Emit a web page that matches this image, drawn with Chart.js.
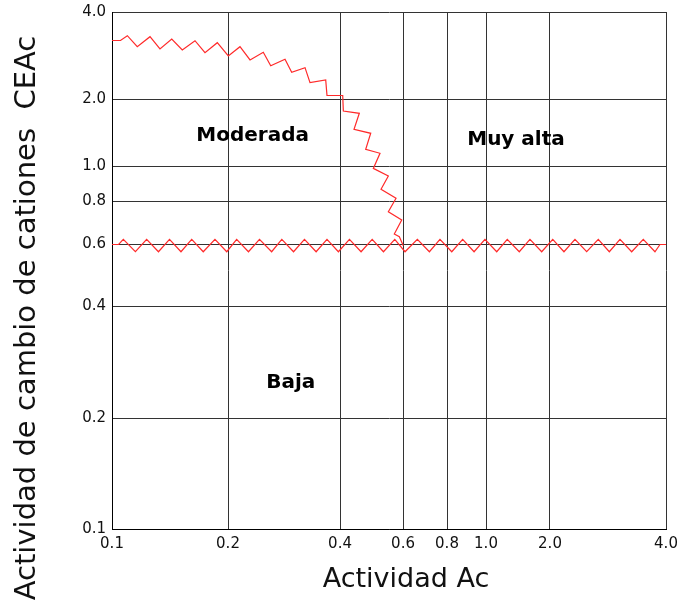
<!DOCTYPE html>
<html lang="es">
<head>
<meta charset="utf-8">
<title>Actividad vs CEAc</title>
<script src="https://cdn.jsdelivr.net/npm/chart.js@4/dist/chart.umd.min.js"></script>
<style>
    html, body { margin: 0; padding: 0; background: #fff; }
    #wrap { width: 677px; height: 602px; }
</style>
</head>
<body>
<div id="wrap"><canvas id="activityChart" width="677" height="602"></canvas></div>
<script>
/* ==========================================
        Data
========================================== */

const xTickValues = [0.1, 0.2, 0.4, 0.6, 0.8, 1.0, 2.0, 4.0];
const yTickValues = [0.1, 0.2, 0.4, 0.6, 0.8, 1.0, 2.0, 4.0];

// zigzag boundary at CEAc = 0.6
const lowerLineX = [
    0.1, 0.104, 0.107, 0.115, 0.123, 0.132, 0.141, 0.151, 0.161, 0.1725,
    0.185, 0.1985, 0.211, 0.227, 0.243, 0.262, 0.279, 0.300, 0.321, 0.345,
    0.369, 0.396, 0.425, 0.458, 0.492, 0.529, 0.569, 0.608, 0.659, 0.713,
    0.764, 0.822, 0.875, 0.934, 0.994, 1.123, 1.259, 1.434, 1.61, 1.828,
    2.033, 2.174, 2.322, 2.49, 2.669, 2.851, 3.039, 3.258, 3.492, 3.745,
    3.859, 4.0
];
const lowerLineY = [
    0.6, 0.6, 0.621, 0.572, 0.621, 0.572, 0.621, 0.572, 0.621, 0.572,
    0.621, 0.572, 0.621, 0.572, 0.621, 0.572, 0.621, 0.572, 0.621, 0.572,
    0.621, 0.572, 0.621, 0.572, 0.621, 0.572, 0.621, 0.572, 0.621, 0.572,
    0.621, 0.572, 0.621, 0.572, 0.621, 0.572, 0.621, 0.572, 0.621, 0.572,
    0.621, 0.572, 0.621, 0.572, 0.621, 0.572, 0.621, 0.572, 0.621, 0.572,
    0.6, 0.6
];

// zigzag boundary Moderada / Muy alta
const upperLineX = [
    0.1, 0.1052, 0.1096, 0.1163, 0.1255, 0.1332, 0.1429, 0.1522, 0.1642, 0.1743,
    0.1876, 0.2004, 0.2154, 0.2292, 0.2488, 0.2605, 0.2846, 0.2966, 0.3221, 0.3322,
    0.3661, 0.369, 0.407, 0.4086, 0.4529, 0.4377, 0.4874, 0.4719, 0.5174, 0.4956,
    0.5459, 0.5208, 0.5736, 0.5459, 0.595, 0.5673, 0.5859, 0.6012
];
const upperLineY = [
    3.191, 3.191, 3.315, 3.039, 3.289, 2.984, 3.230, 2.960, 3.186, 2.897,
    3.136, 2.823, 3.039, 2.735, 2.907, 2.614, 2.750, 2.481, 2.573, 2.285,
    2.334, 2.064, 2.064, 1.774, 1.732, 1.466, 1.406, 1.190, 1.142, 0.985,
    0.938, 0.862, 0.814, 0.745, 0.706, 0.643, 0.632, 0.595
];

const regionNames = ["Moderada", "Muy alta", "Baja"];
const regionX = [0.233, 1.384, 0.295];
const regionY = [1.367, 1.311, 0.249];

const xTitle = "Actividad Ac";
const yTitle = "Actividad de cambio de cationes  CEAc";

/* ==========================================
        Stretched log scale
        (grid spacing of the original figure)
========================================== */

const axisTicks = { x: xTickValues, y: yTickValues };
const axisStops = {
    x: [0, 0.2094, 0.4116, 0.5253, 0.6047, 0.6751, 0.7906, 1],
    y: [0, 0.2137, 0.4313, 0.5503, 0.6344, 0.7021, 0.8308, 1]
};

class StretchedLogScale extends Chart.LogarithmicScale {

    getPixelForValue(value) {
        if (value === undefined || value === null || value <= 0) return NaN;
        const ticks = axisTicks[this.id];
        const stops = axisStops[this.id];
        let i = 0;
        while (i < ticks.length - 2 && value > ticks[i + 1]) i++;
        const t = Math.log(value / ticks[i]) / Math.log(ticks[i + 1] / ticks[i]);
        const f = stops[i] + t * (stops[i + 1] - stops[i]);
        return this.isHorizontal()
            ? this.left + f * this.width
            : this.bottom - f * this.height;
    }

    getValueForPixel(pixel) {
        const ticks = axisTicks[this.id];
        const stops = axisStops[this.id];
        const f = this.isHorizontal()
            ? (pixel - this.left) / this.width
            : (this.bottom - pixel) / this.height;
        let i = 0;
        while (i < stops.length - 2 && f > stops[i + 1]) i++;
        const t = (f - stops[i]) / (stops[i + 1] - stops[i]);
        return ticks[i] * Math.pow(ticks[i + 1] / ticks[i], t);
    }

}

StretchedLogScale.id = "stretchedLog";
StretchedLogScale.defaults = Chart.LogarithmicScale.defaults;
Chart.register(StretchedLogScale);

/* ==========================================
        Labels + axis titles
========================================== */

const textLayer = {

    id: "textLayer",

    afterDatasetsDraw(chart) {

        const { ctx, scales: { x, y } } = chart;

        ctx.save();
        ctx.fillStyle = "#000";
        ctx.textAlign = "center";
        ctx.textBaseline = "middle";

        ctx.font = "bold 20px 'DejaVu Sans'";
        regionNames.forEach((name, i) => {
            ctx.fillText(name, x.getPixelForValue(regionX[i]), y.getPixelForValue(regionY[i]));
        });

        ctx.fillStyle = "#111";
        ctx.font = "27px 'DejaVu Sans'";
        ctx.fillText(xTitle, 406, 580);

        ctx.font = "29px 'DejaVu Sans'";
        ctx.translate(27, 318);
        ctx.rotate(-Math.PI / 2);
        ctx.fillText(yTitle, 0, 0);

        ctx.restore();

    }

};

/* ==========================================
        Chart
========================================== */

const toPoints = (xs, ys) => xs.map((v, i) => ({ x: v, y: ys[i] }));

const axisStyle = (ticks, size) => ({
    type: "stretchedLog",
    min: ticks[0],
    max: ticks[ticks.length - 1],
    afterBuildTicks: axis => {
        axis.ticks = ticks.map(v => ({ value: v }));
    },
    afterFit: axis => {
        if (axis.isHorizontal()) {
            axis.height = size;
            axis.paddingLeft = 0;
            axis.paddingRight = 0;
        } else {
            axis.width = size;
            axis.paddingTop = 0;
            axis.paddingBottom = 0;
        }
    },
    grid: {
        color: "#333",
        lineWidth: 1,
        drawTicks: false
    },
    border: {
        color: "#000",
        width: 1
    },
    ticks: {
        autoSkip: false,
        maxRotation: 0,
        padding: 6,
        color: "#111",
        font: { family: "'DejaVu Sans'", size: 15 },
        callback: v => Number(v).toFixed(1)
    }
});

new Chart(document.getElementById("activityChart"), {

    type: "scatter",

    data: {
        datasets: [
            {
                data: toPoints(upperLineX, upperLineY),
                showLine: true,
                borderColor: "#ff2a2a",
                borderWidth: 1.2,
                pointRadius: 0,
                tension: 0
            },
            {
                data: toPoints(lowerLineX, lowerLineY),
                showLine: true,
                borderColor: "#ff2a2a",
                borderWidth: 1.2,
                pointRadius: 0,
                tension: 0
            }
        ]
    },

    options: {
        responsive: false,
        animation: false,
        devicePixelRatio: 1,
        layout: {
            padding: { left: 0, top: 12, right: 11, bottom: 0 }
        },
        plugins: {
            legend: { display: false },
            tooltip: { enabled: false }
        },
        scales: {
            x: axisStyle(xTickValues, 73),
            y: axisStyle(yTickValues, 112)
        }
    },

    plugins: [textLayer]

});
</script>
</body>
</html>
